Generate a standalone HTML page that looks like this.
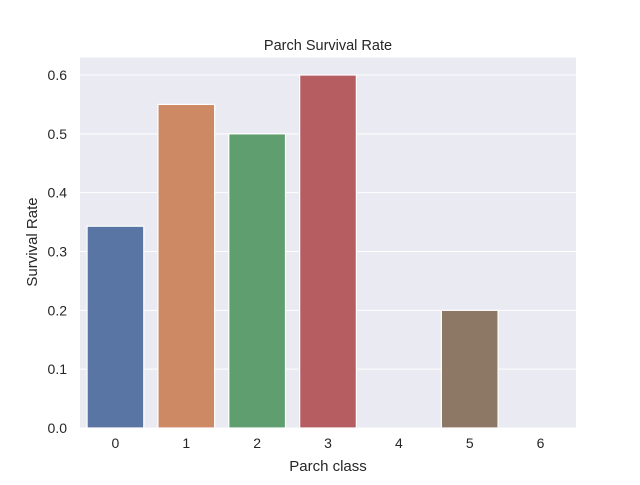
<!DOCTYPE html>
<html><head><meta charset="utf-8"><style>
body{margin:0;background:#fff;font-family:"Liberation Sans","DejaVu Sans",sans-serif;}
</style></head><body>
<svg width="640" height="480" xmlns="http://www.w3.org/2000/svg">
<rect width="640" height="480" fill="#fff"/>
<rect x="80" y="57.6" width="496" height="370.4" fill="#eaeaf2"/>
<g id="grid"></g><g id="bars"></g><g id="ticks"></g>
<text x="328" y="50" text-anchor="middle" font-size="14.5" fill="#262626">Parch Survival Rate</text>
<text x="328" y="471" text-anchor="middle" font-size="15" fill="#262626">Parch class</text>
<text x="37" y="242" text-anchor="middle" font-size="15" fill="#262626" transform="rotate(-90 37 242)">Survival Rate</text>
</svg>
<script>
const categories=["0","1","2","3","4","5","6"];
const values=[0.343,0.55,0.5,0.6,0,0.2,0];
const colors=["#5975a4","#cc8963","#5f9e6e","#b55d60","#857aab","#8d7866","#d095bf"];
const yTicks=[0,0.1,0.2,0.3,0.4,0.5,0.6];
const yTickLabels=["0.0","0.1","0.2","0.3","0.4","0.5","0.6"];
const NS="http://www.w3.org/2000/svg";
const L=80,R=576,B=428,yMax=0.6296;
const xs=i=>L+(i+0.5)*(R-L)/categories.length;
const ys=v=>B-v*(B-57.6)/yMax;
function mk(t,a,p){const e=document.createElementNS(NS,t);for(const k in a)e.setAttribute(k,a[k]);p.appendChild(e);return e;}
const g=document.getElementById('grid'),b=document.getElementById('bars'),t=document.getElementById('ticks');
yTicks.forEach((v,i)=>{
 const ln=mk('line',{x1:L,x2:R,y1:ys(v),y2:ys(v),stroke:'#fff','stroke-width':1},g);
 
 
 const tx=mk('text',{x:L-13,y:ys(v)+5,'text-anchor':'end','font-size':14,fill:'#262626'},t);
 tx.textContent=yTickLabels[i];
 
 
});
const bw=0.8*(R-L)/categories.length;
categories.forEach((c,i)=>{
 const r=mk('rect',{x:xs(i)-bw/2,y:ys(values[i]),width:bw,height:ys(0)-ys(values[i]),fill:colors[i],stroke:'#fff','stroke-width':1.2},b);
 
 
 const tx=mk('text',{x:xs(i),y:B+20,'text-anchor':'middle','font-size':14,fill:'#262626'},t);
 tx.textContent=c;
 
 
});
</script>
</body></html>
